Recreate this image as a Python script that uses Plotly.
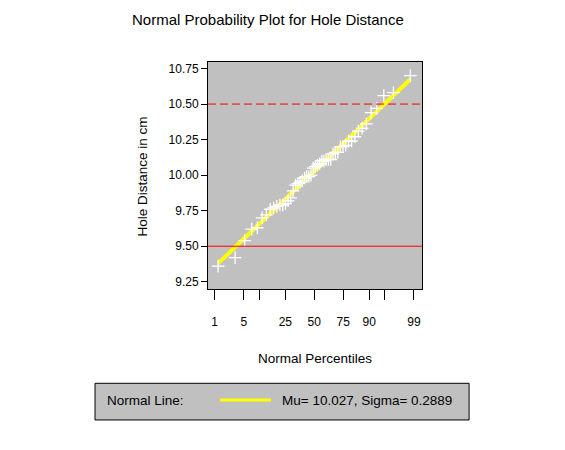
from statistics import NormalDist
import numpy as np
from plotly import graph_objects as go

# hole distance measurements (cm)
distance = [9.80, 10.20, 10.27, 9.70, 9.76,
            10.11, 10.24, 10.20, 10.24, 9.63,
            9.99, 9.78, 10.10, 10.21, 10.00,
            9.96, 9.79, 10.08, 9.79, 10.06,
            10.10, 9.95, 9.84, 10.11, 9.93,
            10.56, 10.47, 9.42, 10.44, 10.16,
            10.11, 10.36, 9.94, 9.77, 9.36,
            9.89, 9.62, 10.05, 9.72, 9.82,
            9.99, 10.16, 10.58, 10.70, 9.54,
            10.31, 10.07, 10.33, 9.98, 10.15]
mu = 10.027
sigma = 0.2889
lower_spec = 9.5
upper_spec = 10.5
pct_ticks = [1, 5, 10, 25, 50, 75, 90, 95, 99]
pct_labels = ["1", "5", "", "25", "50", "75", "90", "", "99"]
y_ticks = [9.25, 9.50, 9.75, 10.00, 10.25, 10.50, 10.75]

nd = NormalDist()
y = np.sort(np.array(distance))
n = len(y)
# blom plotting positions
q = np.array([nd.inv_cdf((i - 0.375) / (n + 0.25)) for i in range(1, n + 1)])
tick_z = [nd.inv_cdf(p / 100) for p in pct_ticks]

FONT = "Liberation Sans, Arial, sans-serif"

fig = go.Figure()
fig.add_trace(go.Scatter(x=[q[0], q[-1]], y=[mu + sigma * q[0], mu + sigma * q[-1]],
                         mode="lines", line=dict(color="#ffff00", width=4),
                         hoverinfo="skip", showlegend=False))
fig.add_trace(go.Scatter(x=q, y=y, mode="markers",
                         marker=dict(symbol="cross-thin-open", size=9, color="white",
                                     line=dict(color="white", width=1.3)),
                         showlegend=False))

fig.add_hline(y=upper_spec, line=dict(color="#ff0000", width=1, dash="8px,4px"))
fig.add_hline(y=lower_spec, line=dict(color="#ff0000", width=1))

fig.update_xaxes(range=[-2.48, 2.515], tickvals=tick_z, ticktext=pct_labels,
                 ticks="outside", ticklen=10, tickcolor="black", ticklabelstandoff=12,
                 showline=True, linecolor="black", linewidth=1, mirror=True,
                 showgrid=False, zeroline=False)
fig.update_yaxes(range=[9.199, 10.796], tickvals=y_ticks, tickformat=".2f",
                 ticks="outside", ticklen=6, tickcolor="black",
                 showline=True, linecolor="black", linewidth=1, mirror=True,
                 showgrid=False, zeroline=False)

# legend box at the bottom
fig.add_shape(type="rect", xref="paper", yref="paper", x0=-0.528, x1=1.220, y0=-0.577, y1=-0.4154,
              fillcolor="#c0c0c0", line=dict(color="black", width=1))
fig.add_shape(type="line", xref="paper", yref="paper", x0=0.0561, x1=0.2944, y0=-0.489, y1=-0.489,
              line=dict(color="#ffff00", width=3))
fig.add_annotation(xref="paper", yref="paper", x=-0.481, y=-0.489, text="Normal Line:",
                   showarrow=False, xanchor="left", yanchor="middle", font=dict(size=13.5))
fig.add_annotation(xref="paper", yref="paper", x=0.336, y=-0.489,
                   text=f"Mu= {mu:.3f}, Sigma= {sigma:.4f}",
                   showarrow=False, xanchor="left", yanchor="middle", font=dict(size=13.5))

# axis titles
fig.add_annotation(xref="paper", yref="paper", x=0.5, y=-0.307, text="Normal Percentiles",
                   showarrow=False, xanchor="center", yanchor="middle", font=dict(size=13.5))
fig.add_annotation(xref="paper", yref="paper", x=-0.304, y=0.4956, text="Hole Distance in cm",
                   textangle=-90, showarrow=False, xanchor="center", yanchor="middle",
                   font=dict(size=13.5))

# chart title
fig.add_annotation(xref="paper", yref="paper", x=(260 - 200) / 214, y=1 + 53 / 227,
                   text="Normal Probability Plot for Hole Distance",
                   showarrow=False, xanchor="center", yanchor="top", font=dict(size=15))

fig.update_layout(
    width=565, height=450, autosize=False,
    margin=dict(l=200, r=151, t=54, b=169),
    paper_bgcolor="white", plot_bgcolor="#c0c0c0",
    font=dict(family=FONT, size=12, color="black"),
    showlegend=False,
)

fig.write_html("out.html")
